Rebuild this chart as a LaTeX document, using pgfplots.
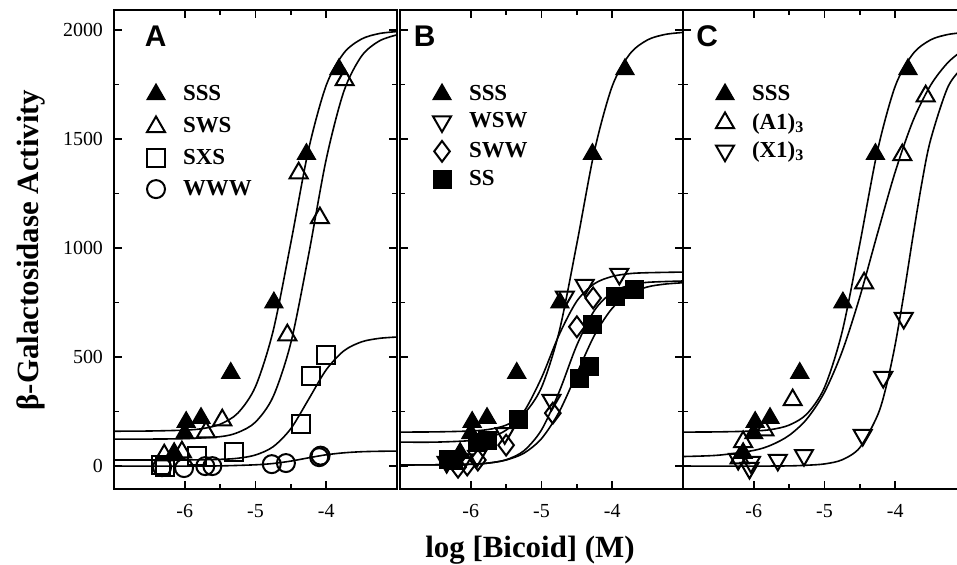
\documentclass[border=0pt]{standalone}
\usepackage{fontspec}
\setmainfont{Liberation Serif}
\newfontfamily\panelfont{Liberation Sans}
\usepackage{pgfplots}
\pgfplotsset{compat=1.18}

\pgfplotsset{
  panel/.style={
    scale only axis, width=141.5bp, height=239.5bp,
    anchor=south west,
    xmin=-7, xmax=-3, ymin=-105, ymax=2092,
    xtick={-6,-5,-4}, minor x tick num=1,
    ytick={0,500,1000,1500,2000}, minor y tick num=1,
    axis line style={line width=1bp},
    major tick length=4bp, minor tick length=2.5bp,
    every tick/.style={black, line width=0.8bp},
    tick label style={font=\fontsize{10}{11}\selectfont},
    xticklabel style={yshift=-4bp},
    yticklabel style={xshift=-2bp},
    /pgf/number format/assume math mode=true,
    /pgf/number format/1000 sep={},
    legend cell align=left,
    legend style={draw=none, fill=none, inner sep=0pt, outer sep=0pt,
      at={(rel axis cs:0,1)}, anchor=north west, xshift=16.5bp, yshift=-37bp,
      font=\fontsize{11.5}{12}\selectfont\bfseries,
      column sep=9bp, row sep=4.5bp, nodes={inner sep=0pt}},
  },
  fit/.style={smooth, black, line width=0.8bp, no marks, forget plot},
  fsq/.style={only marks, mark=triangle*, mark size=5.2bp, mark options={black, fill=black, line width=0.6bp}},
  otr/.style={only marks, mark=triangle, mark size=5.2bp, mark options={black, line width=1bp}},
  dtr/.style={only marks, mark=triangle, mark size=5.2bp, mark options={black, line width=1bp, rotate=180}},
  osq/.style={only marks, mark=square, mark size=4.5bp, mark options={black, line width=1bp}},
  fsqr/.style={only marks, mark=square*, mark size=4.5bp, mark options={black, fill=black}},
  ocr/.style={only marks, mark=o, mark size=4.5bp, mark options={black, line width=1bp}},
  odm/.style={only marks, mark=diamond, mark size=5.2bp, mark options={black, line width=1bp}},
}

\begin{document}
\begin{tikzpicture}
\useasboundingbox (0,0) rectangle (478.5bp,282.5bp);

% ---- panel A ----
\begin{axis}[panel, at={(57bp,38bp)}, legend style={row sep=6.5bp}]
\addplot[fit] coordinates {(-7,160) (-6.5,161) (-6,165) (-5.75,172) (-5.5,192) (-5.25,243) (-5,365) (-4.75,621) (-4.5,1025) (-4.25,1452) (-4,1747) (-3.75,1895) (-3.5,1959) (-3.25,1984) (-3,1993)};
\addplot[fit] coordinates {(-7,124) (-6.5,124) (-6,126) (-5.5,135) (-5.25,154) (-5,202) (-4.75,319) (-4.5,566) (-4.25,968) (-4,1408) (-3.75,1720) (-3.5,1881) (-3.25,1950) (-3,1978)};
\addplot[fit] coordinates {(-7,28) (-6,28) (-5.5,31) (-5.25,36) (-5,51) (-4.75,89) (-4.5,172) (-4.25,306) (-4,442) (-3.75,529) (-3.5,570) (-3.25,586) (-3,592)};
\addplot[fit] coordinates {(-7,0) (-6,0) (-5.5,1) (-5,6) (-4.75,12) (-4.5,23) (-4.25,38) (-4,52) (-3.75,61) (-3.5,66) (-3.25,68) (-3,69)};
\addplot[fsq] coordinates {(-6.15,60) (-6.0,150) (-5.98,202) (-5.77,220) (-5.35,427) (-4.74,750) (-4.28,1431) (-3.82,1820)};
\addlegendentry{SSS}
\addplot[otr] coordinates {(-6.29,50) (-6.04,64) (-5.70,156) (-5.47,211) (-4.55,601) (-4.39,1344) (-4.09,1138) (-3.74,1771)};
\addlegendentry{SWS}
\addplot[osq] coordinates {(-6.33,5) (-6.28,-5) (-5.82,47) (-5.30,64) (-4.36,193) (-4.22,413) (-4.0,509)};
\addlegendentry{SXS}
\addplot[ocr] coordinates {(-6.32,-5) (-6.01,-9) (-5.71,0) (-5.61,0) (-4.77,9) (-4.57,14) (-4.10,41) (-4.08,48)};
\addlegendentry{WWW}
\node[font=\panelfont\bfseries\fontsize{15}{15}\selectfont] at (axis cs:-6.41,1972) {A};
\end{axis}

% ---- panel B ----
\begin{axis}[panel, at={(200bp,38bp)}, yticklabels={}]
\addplot[fit] coordinates {(-7,156) (-6.5,157) (-6,161) (-5.75,168) (-5.5,188) (-5.25,239) (-5,361) (-4.75,617) (-4.5,1021) (-4.25,1448) (-4,1743) (-3.75,1891) (-3.5,1955) (-3.25,1980) (-3,1989)};
\addplot[fit] coordinates {(-7,110) (-6.5,110) (-6,117) (-5.75,131) (-5.5,165) (-5.25,249) (-5,405) (-4.75,603) (-4.5,757) (-4.25,837) (-4,870) (-3.75,883) (-3.5,887) (-3,890)};
\addplot[fit] coordinates {(-7,5) (-6.5,6) (-6,8) (-5.75,14) (-5.5,29) (-5.25,70) (-5,166) (-4.75,341) (-4.5,555) (-4.25,715) (-4,797) (-3.75,830) (-3.5,843) (-3,849)};
\addplot[fit] coordinates {(-7,5) (-6.5,6) (-6,9) (-5.75,14) (-5.5,28) (-5.25,59) (-5,126) (-4.75,249) (-4.5,425) (-4.25,601) (-4,724) (-3.75,791) (-3.5,822) (-3.25,835) (-3,841)};
\addplot[fsq] coordinates {(-6.15,60) (-6.0,150) (-5.98,202) (-5.77,220) (-5.35,427) (-4.74,750) (-4.28,1431) (-3.82,1820)};
\addlegendentry{SSS}
\addplot[dtr] coordinates {(-6.34,18) (-6.10,30) (-5.91,46) (-5.52,150) (-4.86,303) (-4.67,777) (-4.39,830) (-3.90,881)};
\addlegendentry{WSW}
\addplot[odm] coordinates {(-6.18,-5) (-6.05,5) (-5.90,28) (-5.50,96) (-4.84,243) (-4.50,639) (-4.27,771)};
\addlegendentry{SWW}
\addplot[fsqr] coordinates {(-6.32,32) (-6.25,28) (-5.90,110) (-5.77,119) (-5.32,216) (-4.47,404) (-4.33,459) (-4.28,651) (-3.95,777) (-3.69,812)};
\addlegendentry{SS}
\node[font=\panelfont\bfseries\fontsize{15}{15}\selectfont] at (axis cs:-6.65,1972) {B};
\end{axis}

% ---- panel C ----
\begin{axis}[panel, at={(341.5bp,38bp)}, yticklabels={}]
\addplot[fit] coordinates {(-7,156) (-6.5,157) (-6,161) (-5.75,168) (-5.5,188) (-5.25,239) (-5,361) (-4.75,617) (-4.5,1021) (-4.25,1448) (-4,1743) (-3.75,1891) (-3.5,1955) (-3.25,1980) (-3,1989)};
\addplot[fit] coordinates {(-7,44) (-6.5,50) (-6,72) (-5.75,97) (-5.5,141) (-5.25,216) (-5,339) (-4.75,526) (-4.5,777) (-4.25,1068) (-4,1350) (-3.75,1583) (-3.5,1747) (-3.25,1853) (-3,1918)};
\addplot[fit] coordinates {(-7,0) (-6,0) (-5.5,1) (-5.25,4) (-5,10) (-4.75,29) (-4.5,85) (-4.25,233) (-4.125,369) (-4,559) (-3.875,795) (-3.75,1053) (-3.625,1297) (-3.5,1497) (-3.25,1743) (-3,1844)};
\addplot[fsq] coordinates {(-6.15,60) (-6.0,150) (-5.98,202) (-5.77,220) (-5.35,427) (-4.74,750) (-4.28,1431) (-3.82,1820)};
\addlegendentry{SSS}
\addplot[otr] coordinates {(-6.20,36) (-6.15,111) (-5.85,165) (-5.45,303) (-4.44,839) (-3.90,1427) (-3.57,1697)};
\addlegendentry{(A1)\textsubscript{3}}
\addplot[dtr] coordinates {(-6.22,32) (-6.06,-9) (-6.04,18) (-5.66,28) (-5.29,50) (-4.46,142) (-4.17,408) (-3.88,679)};
\addlegendentry{(X1)\textsubscript{3}}
\node[font=\panelfont\bfseries\fontsize{15}{15}\selectfont] at (axis cs:-6.66,1972) {C};
\end{axis}

% ---- shared axis titles ----
\node[font=\bfseries\fontsize{15.5}{16}\selectfont, anchor=base] at (265bp,4bp) {log [Bicoid] (M)};
\node[font=\bfseries\fontsize{15.5}{16}\selectfont, rotate=90, anchor=base] at (19bp,157.5bp) {β-Galactosidase Activity};
\end{tikzpicture}
\end{document}
